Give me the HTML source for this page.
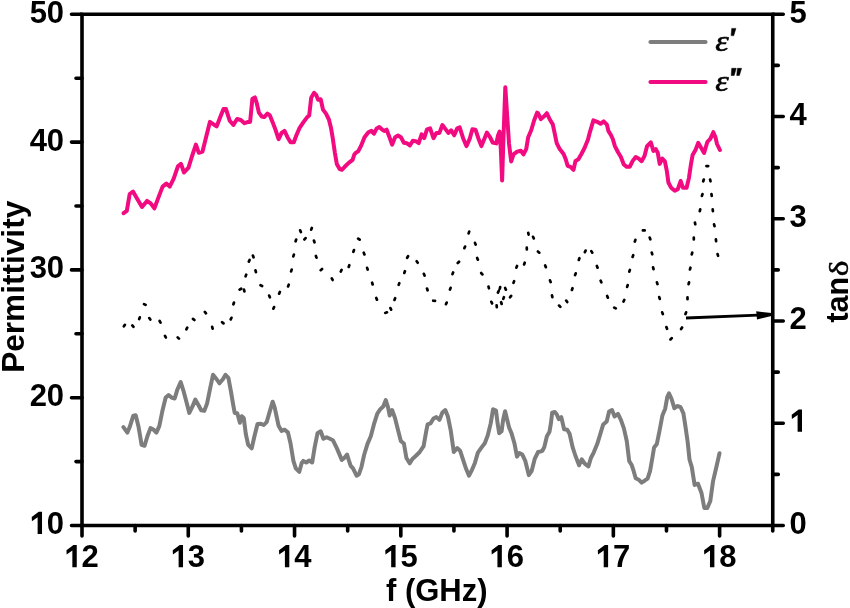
<!DOCTYPE html>
<html><head><meta charset="utf-8"><style>
html,body{margin:0;padding:0;background:#fff;}
body{width:850px;height:608px;overflow:hidden;}
svg{display:block;will-change:transform;}
</style></head><body>
<svg width="850" height="608" viewBox="0 0 850 608">
<polyline points="123.4,427.1 127.4,432.6 129.7,427.1 133.3,415.7 135.7,415.3 138.6,427.1 141.6,444.9 144.5,445.8 147.5,436.0 150.5,428.1 153.4,429.5 156.4,432.6 159.3,426.1 162.3,411.3 165.7,397.5 168.6,395.1 171.6,397.5 174.7,398.5 177.5,389.2 180.7,382.1 183.4,390.6 186.6,402.4 189.3,412.9 192.5,406.4 195.3,399.5 198.4,405.0 201.2,410.3 204.3,410.9 207.1,403.4 210.3,387.6 213.0,374.8 216.2,378.7 219.5,383.3 222.9,379.3 225.5,374.8 228.4,377.8 230.8,390.6 233.3,405.4 234.7,412.9 237.3,413.3 239.9,422.8 241.8,416.2 243.8,418.2 245.8,434.0 248.2,444.9 251.7,448.4 254.5,436.0 257.5,424.0 260.9,423.8 263.8,425.0 266.8,421.8 269.7,411.6 272.7,401.7 274.7,407.6 276.6,416.5 278.6,425.8 281.6,430.9 284.5,429.7 287.9,432.3 290.5,443.2 293.4,460.9 295.8,468.4 299.3,471.8 301.7,462.9 303.3,460.9 306.2,462.5 309.2,460.5 312.2,462.5 314.7,447.1 317.5,433.3 320.7,431.3 323.4,438.8 326.6,437.2 329.9,438.8 332.9,440.2 336.8,448.1 341.8,459.9 344.3,458.0 347.1,454.6 348.7,459.9 350.7,465.8 353.0,468.4 356.6,475.7 358.9,474.3 361.5,466.8 364.1,455.0 367.4,444.1 370.8,436.2 373.9,424.4 377.3,413.6 380.3,409.2 383.2,406.6 385.8,400.1 388.1,407.6 389.7,415.5 392.1,410.0 395.0,418.0 398.0,430.0 400.9,441.2 403.9,443.5 406.4,458.0 409.8,463.3 412.4,458.9 415.7,456.0 419.7,452.0 423.6,446.1 426.2,431.3 427.6,424.4 430.5,423.4 433.5,418.5 436.4,417.1 439.4,419.9 442.4,412.6 445.3,410.0 447.9,416.5 450.7,430.3 453.8,452.0 457.2,448.1 460.1,450.7 463.1,459.9 466.1,468.8 469.0,475.7 472.0,469.8 474.9,462.9 477.9,452.6 481.8,447.1 484.8,443.2 487.8,435.3 490.7,423.4 493.1,409.2 496.0,410.6 497.6,423.4 499.2,433.3 501.6,431.3 503.2,419.5 505.1,411.2 507.1,419.5 509.1,427.4 511.4,432.9 514.4,443.2 517.0,456.6 519.3,453.0 522.3,454.6 525.3,460.9 528.8,475.1 531.6,471.2 534.7,458.9 538.1,452.0 541.0,451.4 542.4,450.7 544.3,447.1 546.9,436.2 549.5,431.7 550.9,423.4 552.2,412.6 554.8,412.0 556.8,414.5 558.7,419.1 561.3,417.1 564.1,429.3 567.2,429.7 569.6,433.7 572.6,447.1 575.5,456.0 579.1,465.3 581.8,459.3 585.0,463.9 588.4,466.4 590.9,458.0 593.7,452.6 597.2,444.1 600.2,434.3 603.2,424.4 606.7,421.4 609.1,411.6 612.0,410.0 614.6,416.5 618.0,413.9 620.9,419.9 623.9,428.4 626.8,441.2 629.2,460.9 631.8,465.3 633.7,471.2 635.7,478.3 638.7,479.7 641.6,482.6 644.6,480.7 647.6,478.7 650.1,470.8 652.5,457.0 654.1,447.5 656.8,444.1 659.4,431.3 662.4,415.5 665.2,408.7 667.3,396.8 669.0,393.4 671.6,399.0 674.4,408.3 677.2,406.0 680.6,407.2 683.4,413.4 685.4,426.1 687.7,442.2 689.5,459.5 691.8,467.1 694.6,484.9 698.0,483.7 701.5,493.0 704.3,508.0 707.3,508.0 710.3,501.0 713.0,481.4 716.5,466.5 719.5,453.3" fill="none" stroke="#7D7D7D" stroke-width="4" stroke-linejoin="round" stroke-linecap="round"/>
<polyline points="123.6,213.2 126.8,210.8 129.7,194.0 133.0,191.5 137.0,198.4 142.0,207.0 147.0,200.9 150.7,203.4 154.4,208.3 158.1,198.4 162.6,186.6 166.3,183.6 169.7,186.6 173.7,178.7 177.9,166.4 181.0,163.9 184.0,172.5 188.5,167.6 191.9,156.5 195.9,144.6 198.8,152.8 202.5,151.6 206.2,136.7 209.9,121.9 213.6,124.4 216.6,126.4 220.3,117.0 223.5,109.1 226.0,109.1 229.7,120.7 233.4,124.9 237.1,119.0 240.8,120.0 244.5,123.2 248.2,121.9 250.1,121.9 252.4,98.7 254.9,97.4 256.9,103.7 258.9,112.6 261.8,116.5 264.2,117.1 267.4,113.6 269.7,115.1 272.7,122.4 275.7,130.3 278.6,139.2 281.6,132.9 284.5,130.9 287.5,137.2 290.5,142.2 293.8,142.2 296.4,135.3 299.3,128.4 303.3,122.4 307.2,117.1 309.2,115.5 311.2,97.8 314.1,92.8 316.1,94.8 318.1,99.7 320.7,99.3 323.0,109.6 326.0,113.6 328.9,119.5 330.9,127.4 332.9,139.2 334.9,153.0 336.8,163.9 339.8,169.2 341.8,169.8 344.7,166.8 348.7,162.9 352.6,159.9 354.3,154.5 356.0,152.6 358.3,151.2 360.9,146.2 364.5,137.2 368.4,132.3 371.4,130.9 373.9,133.7 376.7,128.4 379.3,127.0 381.8,129.3 384.2,130.9 386.6,129.7 389.1,136.2 392.1,144.7 395.1,137.2 398.0,135.5 400.9,137.2 403.9,142.8 406.8,143.2 409.8,145.5 412.8,140.8 415.7,141.2 418.7,143.2 421.6,134.3 424.2,138.2 427.0,129.3 430.1,128.4 433.5,138.2 436.4,132.9 439.4,132.9 442.4,125.0 445.3,128.9 448.3,132.9 451.2,130.3 454.2,135.3 457.2,128.4 459.7,127.4 463.1,138.2 466.4,146.1 469.6,139.2 472.4,129.3 475.5,129.7 478.3,138.2 481.4,146.1 484.2,139.2 486.9,132.5 490.0,137.1 492.7,142.5 496.3,143.4 498.1,135.3 499.6,131.6 500.8,148.8 502.1,180.5 503.6,134.3 505.3,87.2 507.2,116.2 509.0,143.4 511.2,161.5 513.5,154.3 517.1,151.6 520.8,150.7 523.5,154.3 526.2,149.1 528.2,137.2 531.2,130.3 534.1,120.5 537.1,112.6 538.0,113.2 540.9,119.1 543.9,116.5 546.8,113.2 549.8,119.5 552.8,124.4 554.7,133.3 556.7,143.2 559.7,149.1 563.6,154.0 565.6,158.9 567.6,165.8 570.5,166.8 573.5,169.8 575.5,160.9 578.4,159.3 581.4,154.0 584.3,148.5 588.0,139.5 589.9,132.1 593.4,120.4 597.2,121.8 600.5,123.8 603.7,121.4 606.9,124.6 608.5,131.2 610.7,134.6 612.8,139.0 614.9,146.1 617.9,152.0 620.9,157.0 623.8,164.5 626.8,166.8 629.7,166.8 632.7,160.9 635.7,157.0 638.6,158.5 641.6,161.2 644.5,156.0 647.1,146.1 650.8,142.3 653.4,151.0 655.8,149.1 657.8,153.0 659.7,163.9 662.3,158.5 664.9,161.3 666.8,170.8 668.4,182.5 671.1,187.7 674.8,190.7 677.8,189.2 680.7,181.0 682.9,187.7 686.6,187.7 688.9,178.1 691.1,163.3 692.6,155.1 695.5,150.0 698.2,142.9 701.1,147.7 704.1,152.9 707.4,141.8 710.3,138.9 713.3,132.2 715.5,137.4 717.0,144.0 719.9,150.0" fill="none" stroke="#F20A80" stroke-width="4" stroke-linejoin="round" stroke-linecap="round"/>
<path d="M123.90,326.35L124.90,324.85M132.31,325.42L133.49,326.78M139.19,319.05L139.81,317.35M144.01,304.06L145.59,304.94M149.28,318.06L150.32,319.54M159.65,321.02L160.55,322.58M164.98,335.91L165.82,337.49M177.66,337.36L178.94,338.64M186.38,329.29L187.22,327.71M192.99,318.85L194.41,319.95M204.82,311.91L205.98,313.29M212.17,326.93L212.63,328.67M222.11,322.22L223.49,323.38M230.72,319.42L231.48,317.78M233.42,304.26L233.98,302.54M239.62,289.65L241.18,288.75M243.97,289.63L244.43,291.37M245.59,276.35L246.21,274.65M248.82,261.62L249.58,259.98M252.89,255.55L253.51,257.25M255.47,270.43L255.93,272.17M260.48,285.22L262.12,285.98M269.16,295.57L269.84,297.23M273.32,308.72L274.08,307.08M279.16,293.63L279.84,291.97M288.06,286.43L288.74,284.77M291.12,271.36L291.68,269.64M293.32,256.36L293.88,254.64M295.62,241.26L296.18,239.54M300.16,230.37L300.84,232.03M304.42,239.49L305.58,238.11M311.19,229.65L311.81,227.95M313.92,240.54L314.48,242.26M315.89,255.95L316.51,257.65M320.71,270.18L322.09,269.02M331.78,278.41L332.62,279.99M340.82,271.52L341.58,269.88M348.69,266.95L349.31,265.25M353.39,251.75L354.01,250.05M358.16,238.58L359.64,239.62M363.76,252.77L364.44,254.43M367.12,267.84L367.68,269.56M372.12,282.74L372.68,284.46M376.26,297.97L376.94,299.63M385.25,312.91L386.95,312.29M390.42,308.08L391.18,309.72M394.46,299.93L395.14,298.27M398.69,284.85L399.31,283.15M404.29,272.95L404.91,271.25M407.15,257.78L408.05,256.22M416.68,261.26L417.72,262.74M423.86,273.87L424.54,275.53M427.02,288.54L427.58,290.26M433.20,300.72L435.00,300.88M445.92,304.22L446.68,302.58M449.99,289.55L450.61,287.85M452.49,274.15L453.11,272.45M457.76,263.04L459.04,261.76M464.32,248.22L465.08,246.58M468.62,233.36L469.18,231.64M474.99,242.85L475.61,244.55M477.16,257.97L477.84,259.63M481.22,273.01L482.38,274.39M488.51,286.52L488.89,288.28M491.32,301.78L492.08,303.42M496.62,305.40L496.78,307.20M497.92,292.62L498.68,290.98M499.81,288.78L500.19,287.02M501.12,302.24L501.68,303.96M503.29,298.85L503.91,297.15M505.16,287.97L505.84,289.63M510.08,297.34L511.12,295.86M513.49,282.85L514.11,281.15M516.39,267.65L517.01,265.95M524.09,264.45L524.71,262.75M526.77,247.70L526.83,249.50M528.24,232.81L528.56,234.59M533.02,236.78L533.78,238.42M537.91,251.52L539.29,252.68M545.16,265.47L545.84,267.13M549.99,280.35L550.61,282.05M552.01,295.42L552.39,297.18M559.06,305.56L560.34,306.84M566.18,300.56L567.22,302.04M571.89,289.95L572.51,288.25M575.09,275.05L575.71,273.35M578.79,259.95L579.41,258.25M584.82,252.22L585.58,250.58M591.32,251.14L592.28,252.66M596.86,265.97L597.54,267.63M600.66,280.67L601.34,282.33M607.16,295.97L607.84,297.63M614.22,307.55L615.78,308.45M623.52,301.52L624.28,299.88M627.12,286.86L627.68,285.14M629.32,271.66L629.88,269.94M632.59,256.95L633.21,255.25M634.82,241.56L635.38,239.84M642.90,230.40L644.70,230.40M649.69,237.55L650.31,239.25M651.77,252.53L652.23,254.27M653.07,267.43L653.53,269.17M656.92,282.34L657.48,284.06M659.22,297.14L659.78,298.86M662.19,312.35L662.81,314.05M666.39,327.05L667.01,328.75M670.46,339.44L671.74,338.16M681.12,329.06L682.08,327.54M685.49,314.05L686.11,312.35M687.50,297.40L687.50,299.20M688.57,284.07L689.03,282.33M689.97,269.47L690.43,267.73M691.77,254.37L692.23,252.63M693.80,237.60L693.80,239.40M694.94,222.51L695.26,224.29M699.77,211.17L700.23,209.43M701.92,195.86L702.48,194.14M703.22,181.26L703.78,179.54M706.40,166.10L708.20,166.10M710.11,179.52L710.49,181.28M711.44,194.11L711.76,195.89M712.67,209.41L712.93,211.19M714.07,224.33L714.53,226.07M715.92,239.40L716.08,241.20M717.57,254.03L718.03,255.77" fill="none" stroke="#000" stroke-width="2.7" stroke-linecap="round"/>
<path d="M686,318L758,315.2" fill="none" stroke="#000" stroke-width="2.8"/>
<path d="M756.2,311.2L771.5,313.1L771.5,316L757,319.5Z" fill="#000"/>
<path d="M82.0,14.3H772.75V525.5H82.0Z" fill="none" stroke="#000" stroke-width="3.6" stroke-linejoin="miter"/>
<path d="M82.0,525.50H71.50M82.0,461.60H76.00M82.0,397.70H71.50M82.0,333.80H76.00M82.0,269.90H71.50M82.0,206.00H76.00M82.0,142.10H71.50M82.0,78.20H76.00M82.0,14.30H71.50M772.75,525.50H783.25M772.75,474.38H778.25M772.75,423.26H783.25M772.75,372.14H778.25M772.75,321.02H783.25M772.75,269.90H778.25M772.75,218.78H783.25M772.75,167.66H778.25M772.75,116.54H783.25M772.75,65.42H778.25M772.75,14.30H783.25M82.00,525.5V536.00M135.13,525.5V531.00M188.27,525.5V536.00M241.41,525.5V531.00M294.54,525.5V536.00M347.68,525.5V531.00M400.81,525.5V536.00M453.94,525.5V531.00M507.08,525.5V536.00M560.21,525.5V531.00M613.35,525.5V536.00M666.49,525.5V531.00M719.62,525.5V536.00M772.75,525.5V531.00" fill="none" stroke="#000" stroke-width="3.6" stroke-linecap="round"/>
<g font-family='"Liberation Sans", sans-serif' font-weight="bold" font-size="31" fill="#000">
<text x="46.86" y="533.90">0</text>
<text x="29.63" y="406.10">2</text>
<text x="46.86" y="406.10">0</text>
<text x="29.63" y="278.30">3</text>
<text x="46.86" y="278.30">0</text>
<text x="29.63" y="150.50">4</text>
<text x="46.86" y="150.50">0</text>
<text x="29.63" y="22.70">5</text>
<text x="46.86" y="22.70">0</text>
<text x="789.60" y="533.90">0</text>
<text x="789.60" y="329.42">2</text>
<text x="789.60" y="227.18">3</text>
<text x="789.60" y="124.94">4</text>
<text x="789.60" y="22.70">5</text>
<text x="81.60" y="567.20">2</text>
<text x="187.87" y="567.20">3</text>
<text x="294.14" y="567.20">4</text>
<text x="400.41" y="567.20">5</text>
<text x="506.68" y="567.20">6</text>
<text x="612.95" y="567.20">7</text>
<text x="719.22" y="567.20">8</text>
<text x="436.8" y="600.8" text-anchor="middle">f (GHz)</text>
<text transform="translate(23.7,286.8) rotate(-90)" text-anchor="middle" font-size="31.6">Permittivity</text>
<text transform="translate(847.7,322.6) rotate(-90)" font-size="30.5">tan</text>
<text transform="translate(847.5,276.2) rotate(-90) scale(1.13,0.95)" font-family="Liberation Serif" font-size="29.5" font-weight="normal" stroke="#000" stroke-width="0.5">δ</text>
</g>
<path d="M38.73,511.70H42.03V533.90H37.63V517.20L31.93,521.20L31.73,516.90ZM798.70,409.46H802.00V431.66H797.60V414.96L791.90,418.96L791.70,414.66ZM73.46,545.00H76.76V567.20H72.36V550.50L66.66,554.50L66.46,550.20ZM179.73,545.00H183.03V567.20H178.63V550.50L172.93,554.50L172.73,550.20ZM286.00,545.00H289.30V567.20H284.90V550.50L279.20,554.50L279.00,550.20ZM392.27,545.00H395.57V567.20H391.17V550.50L385.47,554.50L385.27,550.20ZM498.54,545.00H501.84V567.20H497.44V550.50L491.74,554.50L491.54,550.20ZM604.81,545.00H608.11V567.20H603.71V550.50L598.01,554.50L597.81,550.20ZM711.08,545.00H714.38V567.20H709.98V550.50L704.28,554.50L704.08,550.20Z" fill="#000"/>
<path d="M650.5,42H705.5" stroke="#7D7D7D" stroke-width="4.2" stroke-linecap="round"/>
<path d="M650.5,82H705.5" stroke="#F20A80" stroke-width="4.2" stroke-linecap="round"/>
<g font-family="Liberation Serif" font-style="italic" font-size="30.5" fill="#000" stroke="#000" stroke-width="0.6">
<text transform="translate(715.2,50.9) scale(1.12,1)">ε</text>
<text transform="translate(715.2,90.9) scale(1.12,1)">ε</text>
</g>
<path d="M731.7,28.4L735.9,28.4L733.7,35.8L731.1,35.6Z M731.7,68.3L736.2,68.3L734.2,75.5L731.2,75.5Z M737.4,68.3L741.6,68.3L739.4,75.5L736.7,75.5Z" fill="#000" stroke="#000" stroke-width="0.5" stroke-linejoin="round"/>
</svg>
</body></html>
